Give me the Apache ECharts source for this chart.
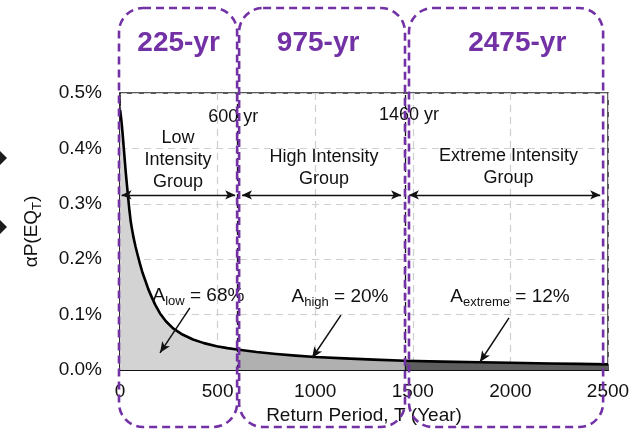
<!DOCTYPE html>
<html><head><meta charset="utf-8">
<script src="https://cdn.jsdelivr.net/npm/echarts@6/dist/echarts.min.js"></script>
<style>html,body{margin:0;padding:0;background:#fff}#c{width:633px;height:432px}</style>
</head><body><div id="c"></div>
<script>
// ---- data ----
const returnPeriod = [0, 3, 6, 10, 15, 20, 25, 30, 35, 41, 48, 55, 62, 70, 80, 90, 102, 115, 130, 145, 162, 180, 205, 235, 272, 320, 374, 430, 495, 550, 600, 700, 800, 900, 1000, 1150, 1300, 1460, 1650, 1844, 2000, 2200, 2350, 2500];
const alphaP = [0.470, 0.463, 0.454, 0.440, 0.420, 0.398, 0.376, 0.355, 0.336, 0.314, 0.289, 0.268, 0.253, 0.238, 0.222, 0.208, 0.192, 0.176, 0.161, 0.146, 0.132, 0.118, 0.102, 0.088, 0.075, 0.064, 0.055, 0.0485, 0.043, 0.0395, 0.037, 0.0325, 0.029, 0.026, 0.0235, 0.0210, 0.0188, 0.0166, 0.0151, 0.0139, 0.0130, 0.0118, 0.0110, 0.0101];
const xTicks = [0, 500, 1000, 1500, 2000, 2500];
const yTickLabels = ['0.0%', '0.1%', '0.2%', '0.3%', '0.4%', '0.5%'];
const groupBounds = [0, 600, 1460, 2500];
const groupNames = ['Low\nIntensity\nGroup', 'High Intensity\nGroup', 'Extreme Intensity\nGroup'];
const groupKeys = ['low', 'high', 'extreme'];
const groupShares = [68, 20, 12];
const boundaryLabels = ['600 yr', '1460 yr'];
const hazardLevels = ['225-yr', '975-yr', '2475-yr'];
const hazardBoxEnds = [600, 1460, 2475];

const FONT = '"Liberation Sans", Arial, sans-serif';
const PURPLE = '#7331a6';
const fills = ['#d3d3d3', '#b0b0b0', '#5e5e5e'];

const pts = returnPeriod.map((t, i) => [t, alphaP[i]]);
function segment(a, b) { return pts.filter(p => p[0] >= a && p[0] <= b); }

const chart = echarts.init(document.getElementById('c'), null, {renderer: 'canvas'});

const areaSeries = [0, 1, 2].map(i => ({
  type: 'line', name: groupKeys[i], data: segment(groupBounds[i], groupBounds[i + 1]),
  smooth: false, showSymbol: false, silent: true,
  lineStyle: {width: 0}, areaStyle: {color: fills[i], opacity: 1}, z: 1
}));

// annotation anchors (data coordinates)
const groupArrowY = 0.316;
const pointerFrom = [[358, 0.112], [1132, 0.099], [1993, 0.094]];
const pointerTo = [[205, 0.031], [984, 0.0217], [1844, 0.0144]];

chart.setOption({
  animation: false,
  grid: {left: 120, right: 25, top: 93, bottom: 62, show: true, borderColor: '#222', borderWidth: 1.5, backgroundColor: 'transparent'},
  xAxis: {
    type: 'value', min: 0, max: 2500, interval: 500,
    name: 'Return Period, T (Year)', nameLocation: 'middle', nameGap: 34,
    nameTextStyle: {fontSize: 19, fontFamily: FONT, color: '#111'},
    axisLine: {show: true, lineStyle: {color: '#111', width: 2}},
    axisTick: {show: false},
    axisLabel: {fontSize: 19, fontFamily: FONT, color: '#111', margin: 12, formatter: v => xTicks.includes(v) ? String(v) : ''},
    splitLine: {show: true, lineStyle: {color: '#cfcfcf', type: [7, 5], width: 1.2}}
  },
  yAxis: {
    type: 'value', min: 0, max: 0.5, interval: 0.1,
    name: '{m|αP(EQ}{s|T}{m|)}', nameLocation: 'middle', nameGap: 76, nameRotate: 90,
    nameTextStyle: {fontFamily: FONT, color: '#111', rich: {
      m: {fontSize: 19, fontFamily: FONT, color: '#111', verticalAlign: 'bottom', padding: [0, 0, 3, 0]},
      s: {fontSize: 13, fontFamily: FONT, color: '#111', verticalAlign: 'bottom'}
    }},
    axisLine: {show: true, lineStyle: {color: '#111', width: 1.5, type: 'dotted'}},
    axisTick: {show: false},
    axisLabel: {fontSize: 19, fontFamily: FONT, color: '#111', margin: 18, formatter: v => yTickLabels[Math.round(v * 10)]},
    splitLine: {show: true, lineStyle: {color: '#cfcfcf', type: [7, 5], width: 1.2}}
  },
  series: areaSeries.concat([
    {
      type: 'line', name: 'curve', data: pts, smooth: false, showSymbol: false, silent: true,
      lineStyle: {color: '#000', width: 2.6, join: 'round'}, z: 3
    },
    {
      type: 'line', name: 'dividers', data: [], silent: true,
      markLine: {silent: true, symbol: ['none', 'none'], label: {show: false},
        lineStyle: {color: '#111', type: [5, 4], width: 1.3},
        data: groupBounds.slice(1, 3).map(b => [{coord: [b, 0]}, {coord: [b, 0.5]}])}
    },
    {
      type: 'line', name: 'groupArrows', data: [], silent: true,
      markLine: {silent: true, symbol: ['arrow', 'arrow'], symbolSize: [7, 10], label: {show: false},
        lineStyle: {color: '#111', type: 'solid', width: 1.4},
        data: [[{coord: [8, groupArrowY]}, {coord: [590, groupArrowY]}],
               [{coord: [625, groupArrowY]}, {coord: [1440, groupArrowY]}],
               [{coord: [1480, groupArrowY]}, {coord: [2460, groupArrowY]}]]}
    },
    {
      type: 'line', name: 'pointers', data: [], silent: true,
      markLine: {silent: true, symbol: ['none', 'arrow'], symbolSize: [7, 11], label: {show: false},
        lineStyle: {color: '#111', type: 'solid', width: 1.5},
        data: pointerFrom.map((p, i) => [{coord: p}, {coord: pointerTo[i]}])}
    }
  ])
});

function px(x, y) { return chart.convertToPixel({gridIndex: 0}, [x, y]); }

const g = [];
// purple hazard boxes
const boxStarts = [px(0, 0)[0] - 1, px(600, 0)[0] + 2, px(1460, 0)[0] + 4];
const labelX = [300, 1015, 2035];
hazardBoxEnds.forEach((e, i) => {
  const x0 = boxStarts[i], x1 = px(e, 0)[0];
  g.push({type: 'rect', z: 100, shape: {x: x0, y: 8, width: x1 - x0, height: 419, r: 24},
    style: {fill: 'none', stroke: PURPLE, lineWidth: 2.6, lineDash: [8, 5]}});
  g.push({type: 'text', z: 101, style: {text: hazardLevels[i], x: px(labelX[i], 0)[0], y: 43,
    align: 'center', verticalAlign: 'middle', fontSize: 28, fontWeight: 'bold', fontFamily: FONT, fill: PURPLE}});
});
// boundary labels
const bl = [[580, 0.457], [1481, 0.46]];
boundaryLabels.forEach((t, i) => {
  const p = px(bl[i][0], bl[i][1]);
  g.push({type: 'text', z: 50, style: {text: t, x: p[0], y: p[1], align: 'center', verticalAlign: 'middle', fontSize: 18, fontFamily: FONT, fill: '#111'}});
});
// group names
const gn = [[297, 0.379], [1045, 0.365], [1990, 0.366]];
groupNames.forEach((t, i) => {
  const p = px(gn[i][0], gn[i][1]);
  g.push({type: 'text', z: 50, style: {text: t, x: p[0], y: p[1], align: 'center', verticalAlign: 'middle', fontSize: 18, lineHeight: 22, fontFamily: FONT, fill: '#111'}});
});
// area shares
const ap = [[402, 0.132], [1127, 0.130], [1998, 0.130]];
groupShares.forEach((s, i) => {
  const p = px(ap[i][0], ap[i][1]);
  g.push({type: 'text', z: 50, style: {text: '{m|A}{s|' + groupKeys[i] + '}{m| = ' + s + '%}', x: p[0], y: p[1], align: 'center', verticalAlign: 'middle', fontFamily: FONT, fill: '#111',
    rich: {m: {fontSize: 19, fontFamily: FONT, fill: '#111', verticalAlign: 'bottom', padding: [0, 0, 3, 0]},
           s: {fontSize: 13, fontFamily: FONT, fill: '#111', verticalAlign: 'bottom'}}}});
});
// arrow heads cut at the left edge
[158, 227].forEach(y => {
  g.push({type: 'polygon', z: 50, shape: {points: [[-9, y], [-1, y - 8], [7, y], [-1, y + 8]]}, style: {fill: '#1c1c1c'}});
});
chart.setOption({graphic: g});
</script>
</body></html>
